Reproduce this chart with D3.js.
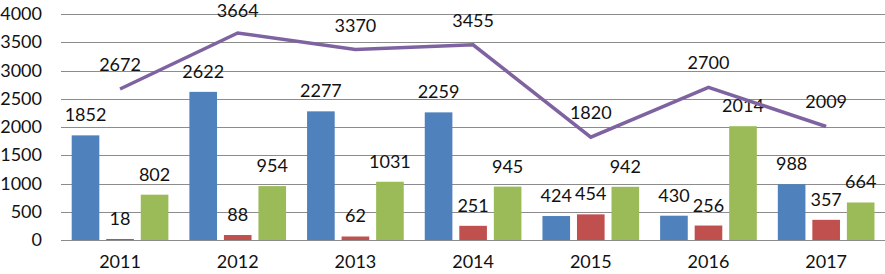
<!DOCTYPE html>
<html>
<head>
<meta charset="UTF-8" />
<script src="https://d3js.org/d3.v7.min.js"></script>
<style>
  body { margin: 0; background: #fff; }
  text { font-family: Lato, "Open Sans", sans-serif; font-size: 18px; fill: #111; }
  .grid line { stroke: #8c8c8c; stroke-width: 1px; }
</style>
</head>
<body>
<script>
// dati
const years = ["2011", "2012", "2013", "2014", "2015", "2016", "2017"];
const serieBlu = [1852, 2622, 2277, 2259, 424, 430, 988];
const serieRossa = [18, 88, 62, 251, 454, 256, 357];
const serieVerde = [802, 954, 1031, 945, 942, 2014, 664];
const lineaViola = [2672, 3664, 3370, 3455, 1820, 2700, 2009];
const yTicks = [0, 500, 1000, 1500, 2000, 2500, 3000, 3500, 4000];

const barSeries = [
  { name: "blu", values: serieBlu, color: "#4f81bd" },
  { name: "rossa", values: serieRossa, color: "#c0504d" },
  { name: "verde", values: serieVerde, color: "#9bbb59" }
];

const width = 885, height = 274;
const svg = d3.select("body").append("svg")
  .attr("width", width)
  .attr("height", height);

const x0 = d3.scaleBand().domain(years).range([61.2, 885]).padding(0);
const x1 = d3.scaleBand().domain(barSeries.map(s => s.name))
  .range([10.5, x0.bandwidth() - 10.5]).paddingInner(0.2);
const y = d3.scaleLinear().domain([0, 4000]).range([240, 14]);

// griglia
svg.append("g").attr("class", "grid")
  .selectAll("line")
  .data(yTicks)
  .enter().append("line")
  .attr("x1", 61).attr("x2", width)
  .attr("y1", d => Math.round(y(d)) + 0.5)
  .attr("y2", d => Math.round(y(d)) + 0.5);

// etichette asse y
svg.append("g")
  .selectAll("text")
  .data(yTicks)
  .enter().append("text")
  .attr("x", 42)
  .attr("y", d => y(d) + 6)
  .attr("text-anchor", "end")
  .text(d => d);

// etichette asse x
svg.append("g")
  .selectAll("text")
  .data(years)
  .enter().append("text")
  .attr("x", d => x0(d) + x0.bandwidth() / 2)
  .attr("y", 268)
  .attr("text-anchor", "middle")
  .text(d => d);

// barre
barSeries.forEach(s => {
  const g = svg.append("g");
  g.selectAll("rect")
    .data(s.values)
    .enter().append("rect")
    .attr("x", (d, i) => x0(years[i]) + x1(s.name))
    .attr("width", x1.bandwidth())
    .attr("y", d => y(d))
    .attr("height", d => y(0) - y(d))
    .attr("fill", s.color);
  g.selectAll("text")
    .data(s.values)
    .enter().append("text")
    .attr("x", (d, i) => x0(years[i]) + x1(s.name) + x1.bandwidth() / 2)
    .attr("y", d => y(d) - 14)
    .attr("text-anchor", "middle")
    .text(d => d);
});

// linea
const cx = (d, i) => x0(years[i]) + x0.bandwidth() / 2;
svg.append("path")
  .datum(lineaViola)
  .attr("fill", "none")
  .attr("stroke", "#7f63a1")
  .attr("stroke-width", 3.5)
  .attr("stroke-linejoin", "miter")
  .attr("d", d3.line().x(cx).y(d => y(d)));

// etichette linea (la più alta non deve uscire dal bordo)
svg.append("g")
  .selectAll("text")
  .data(lineaViola)
  .enter().append("text")
  .attr("x", cx)
  .attr("y", d => Math.max(y(d) - 18, 17))
  .attr("text-anchor", "middle")
  .text(d => d);
</script>
</body>
</html>
